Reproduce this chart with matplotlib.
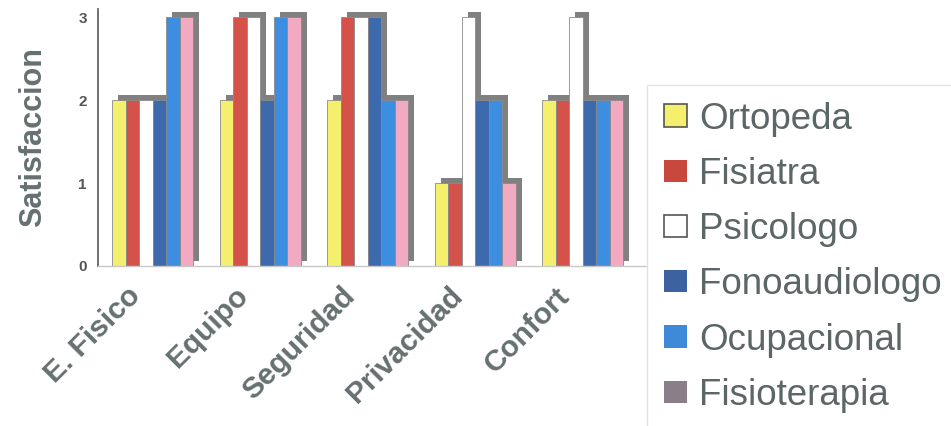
import numpy as np
import matplotlib
matplotlib.use("Agg")
from matplotlib import pyplot as plt
from matplotlib import patheffects as pe
from matplotlib.patches import Patch
from matplotlib.transforms import ScaledTranslation

categories = ["E. Fisico", "Equipo", "Seguridad", "Privacidad", "Confort"]
series_names = ["Ortopeda", "Fisiatra", "Psicologo", "Fonoaudiologo", "Ocupacional", "Fisioterapia"]

ortopeda = [2, 2, 2, 1, 2]
fisiatra = [2, 3, 3, 1, 2]
psicologo = [2, 3, 3, 3, 3]
fonoaudiologo = [2, 2, 3, 2, 2]
ocupacional = [3, 3, 2, 2, 2]
fisioterapia = [3, 3, 2, 1, 2]

yticks = [0, 1, 2, 3]

bar_colors = ["#f4f06e", "#d4524a", "#ffffff", "#3d6aad", "#3d8ee0", "#f2a9c2"]
legend_colors = ["#f4f06e", "#c8483e", "#ffffff", "#3d62a0", "#3f8ad8", "#8a7e88"]
text_gray = "#667070"

plt.rcParams['font.family'] = ['Liberation Sans', 'DejaVu Sans']

fig = plt.figure(figsize=(9.51, 4.26), dpi=100)
ax = fig.add_axes([0.103, 0.3756, 0.577, 0.603])

values = [ortopeda, fisiatra, psicologo, fonoaudiologo, ocupacional, fisioterapia]
x = np.arange(len(categories))
w = 0.1256
shadow = [pe.SimplePatchShadow(offset=(4.3, 3.6), shadow_rgbFace="#808080", alpha=1.0), pe.Normal()]

for i, (vals, col) in enumerate(zip(values, bar_colors)):
    bars = ax.bar(x + (i - 2.5) * w, vals, width=w, color=col, edgecolor="#8a8a8a",
                  linewidth=0.6, zorder=2)
    for b in bars:
        b.set_path_effects(shadow)

ax.set_xlim(-0.512, 4.595)
ax.set_ylim(0, 3.1)
ax.set_yticks(yticks)
ax.set_yticklabels([str(t) for t in yticks], fontsize=11, fontweight="bold", color="#555555")
ax.tick_params(axis="y", length=0, pad=8)
ax.tick_params(axis="x", length=0, pad=10)
ax.set_xticks(x)
ax.set_xticklabels(categories, rotation=45, ha="right", va="center", rotation_mode="anchor",
                   fontsize=21.5, fontweight="bold", color=text_gray)
for lbl in ax.get_xticklabels():
    lbl.set_transform(lbl.get_transform() + ScaledTranslation(-0.17, -0.12, fig.dpi_scale_trans))

ax.set_ylabel("Satisfaccion", fontsize=22, fontweight="bold", color=text_gray, labelpad=22)

for s in ["top", "right"]:
    ax.spines[s].set_visible(False)
ax.spines["left"].set_color("#555566")
ax.spines["left"].set_linewidth(1.2)
ax.spines["bottom"].set_color("#c8c8c8")
ax.spines["bottom"].set_linewidth(1.0)

handles = [Patch(facecolor=c, edgecolor="#555555" if c in ("#f4f06e", "#ffffff") else "none",
                 linewidth=1.2) for c in legend_colors]
leg = fig.legend(handles, series_names, loc="upper left", bbox_to_anchor=(647 / 951, 1 - 85 / 426),
                 borderaxespad=0, fontsize=26.5, frameon=True, fancybox=False,
                 handlelength=0.64, handleheight=0.55, handletextpad=0.33,
                 borderpad=0.45, labelspacing=0.55)
leg.get_frame().set_edgecolor("#dddddd")
leg.get_frame().set_linewidth(1.0)
for t in leg.get_texts():
    t.set_color("#5c6666")

fig.savefig("out.png", dpi=100)
